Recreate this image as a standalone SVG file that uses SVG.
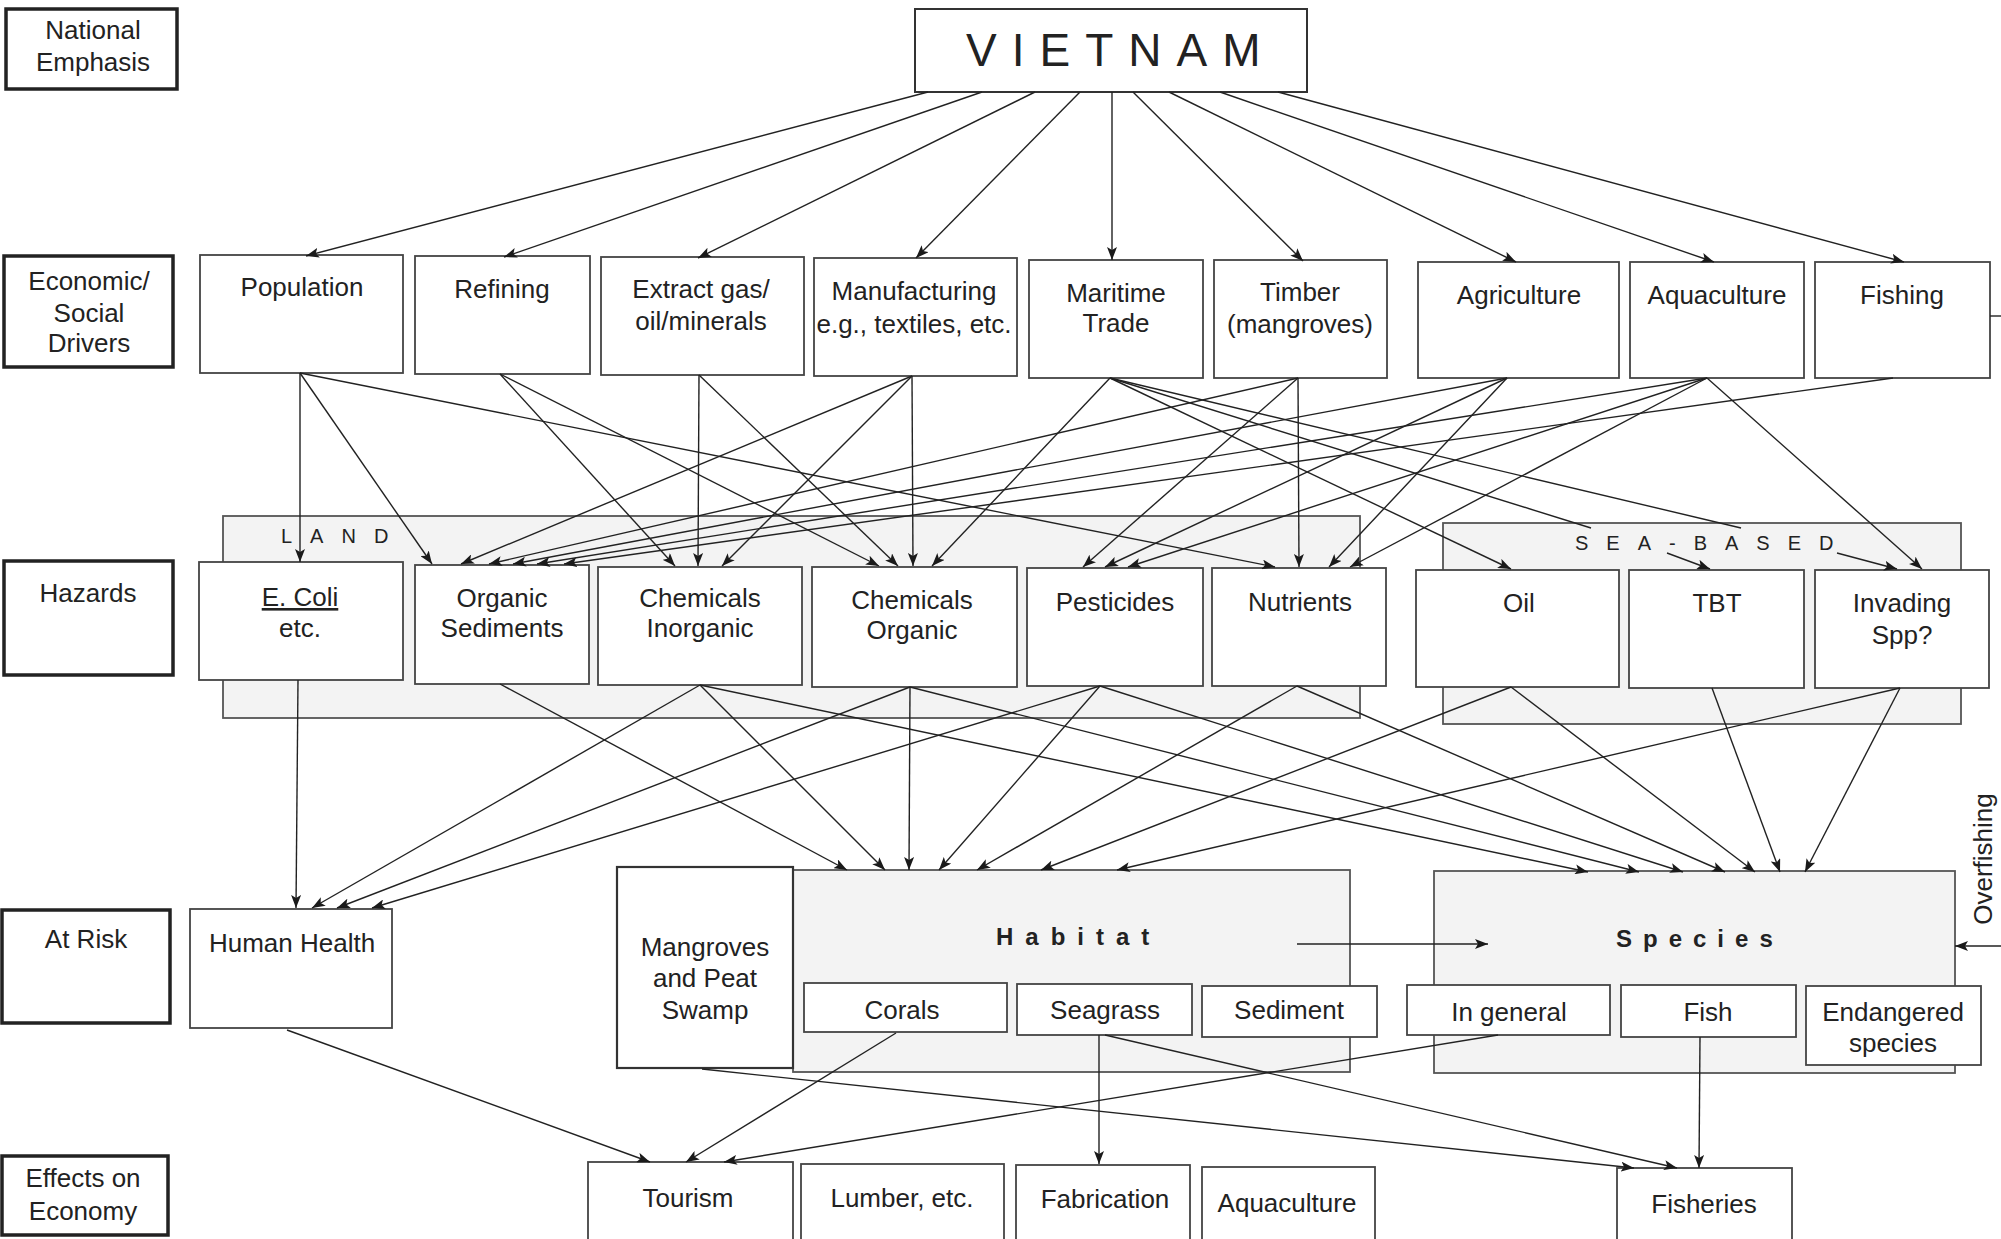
<svg xmlns="http://www.w3.org/2000/svg" width="2001" height="1239" viewBox="0 0 2001 1239">
<defs>
<marker id="ah" markerUnits="userSpaceOnUse" markerWidth="14" markerHeight="10" refX="13" refY="5" orient="auto">
<path d="M0,0 L13,5 L0,10 L3,5 z" fill="#1a1a1a"/>
</marker>
</defs>
<style>
text{font-family:"Liberation Sans",Arial,sans-serif;fill:#222;}
.t{font-size:26px;text-anchor:middle;}
.lab rect{fill:#fff;stroke:#222;stroke-width:3.5;}
.box{fill:#fff;stroke:#444;stroke-width:1.8;}
.band{fill:#f3f3f3;stroke:#555;stroke-width:1.8;}
.c line{stroke:#222;stroke-width:1.4;fill:none;}
.c .a{marker-end:url(#ah);}
.sp{font-size:20px;letter-spacing:18px;}
.big{font-size:24px;font-weight:bold;letter-spacing:12px;}
</style>
<rect width="2001" height="1239" fill="#fff"/>

<!-- left labels -->
<g id="lab-national" class="lab"><rect x="6" y="9" width="171" height="80"/><text class="t" x="93" y="39">National</text><text class="t" x="93" y="71">Emphasis</text></g>
<g id="lab-drivers" class="lab"><rect x="4" y="256" width="169" height="111"/><text class="t" x="89" y="290">Economic/</text><text class="t" x="89" y="322">Social</text><text class="t" x="89" y="352">Drivers</text></g>
<g id="lab-hazards" class="lab"><rect x="4" y="561" width="169" height="114"/><text class="t" x="88" y="602">Hazards</text></g>
<g id="lab-atrisk" class="lab"><rect x="2" y="910" width="168" height="113"/><text class="t" x="86" y="948">At Risk</text></g>
<g id="lab-effects" class="lab"><rect x="2" y="1156" width="166" height="79"/><text class="t" x="83" y="1187">Effects on</text><text class="t" x="83" y="1220">Economy</text></g>

<!-- bands -->
<g id="land-band"><rect class="band" x="223" y="516" width="1137" height="202"/><text class="sp" x="281" y="543">LAND</text></g>
<g id="sea-band"><rect class="band" x="1443" y="523" width="518" height="201"/><text class="sp" x="1575" y="550">SEA-BASED</text></g>

<!-- top -->
<g id="vietnam"><rect x="915" y="9" width="392" height="83" fill="#fff" stroke="#333" stroke-width="2"/><text x="966" y="66" style="font-size:46px;letter-spacing:15px">VIETNAM</text></g>

<!-- drivers -->
<g id="population"><rect class="box" x="200" y="255" width="203" height="118"/><text class="t" x="302" y="296">Population</text></g>
<g id="refining"><rect class="box" x="415" y="256" width="175" height="118"/><text class="t" x="502" y="298">Refining</text></g>
<g id="extract"><rect class="box" x="601" y="257" width="203" height="118"/><text class="t" x="701" y="298">Extract gas/</text><text class="t" x="701" y="330">oil/minerals</text></g>
<g id="manufacturing"><rect class="box" x="814" y="258" width="203" height="118"/><text class="t" x="914" y="300">Manufacturing</text><text class="t" x="914" y="333">e.g., textiles, etc.</text></g>
<g id="maritime"><rect class="box" x="1029" y="260" width="174" height="118"/><text class="t" x="1116" y="302">Maritime</text><text class="t" x="1116" y="332">Trade</text></g>
<g id="timber"><rect class="box" x="1214" y="260" width="173" height="118"/><text class="t" x="1300" y="301">Timber</text><text class="t" x="1300" y="333">(mangroves)</text></g>
<g id="agriculture"><rect class="box" x="1418" y="262" width="201" height="116"/><text class="t" x="1519" y="304">Agriculture</text></g>
<g id="aquaculture"><rect class="box" x="1630" y="262" width="174" height="116"/><text class="t" x="1717" y="304">Aquaculture</text></g>
<g id="fishing"><rect class="box" x="1815" y="262" width="175" height="116"/><text class="t" x="1902" y="304">Fishing</text></g>

<!-- hazards -->
<g id="ecoli"><rect class="box" x="199" y="562" width="204" height="118"/><text class="t" x="300" y="606" text-decoration="underline">E. Coli</text><text class="t" x="300" y="637">etc.</text></g>
<g id="orgsed"><rect class="box" x="415" y="565" width="174" height="119"/><text class="t" x="502" y="607">Organic</text><text class="t" x="502" y="637">Sediments</text></g>
<g id="cheminorg"><rect class="box" x="598" y="567" width="204" height="118"/><text class="t" x="700" y="607">Chemicals</text><text class="t" x="700" y="637">Inorganic</text></g>
<g id="chemorg"><rect class="box" x="812" y="567" width="205" height="120"/><text class="t" x="912" y="609">Chemicals</text><text class="t" x="912" y="639">Organic</text></g>
<g id="pesticides"><rect class="box" x="1027" y="568" width="176" height="118"/><text class="t" x="1115" y="611">Pesticides</text></g>
<g id="nutrients"><rect class="box" x="1212" y="568" width="174" height="118"/><text class="t" x="1300" y="611">Nutrients</text></g>
<g id="oil"><rect class="box" x="1416" y="570" width="203" height="117"/><text class="t" x="1519" y="612">Oil</text></g>
<g id="tbt"><rect class="box" x="1629" y="570" width="175" height="118"/><text class="t" x="1717" y="612">TBT</text></g>
<g id="invading"><rect class="box" x="1815" y="570" width="174" height="118"/><text class="t" x="1902" y="612">Invading</text><text class="t" x="1902" y="644">Spp?</text></g>

<!-- at risk -->
<g id="humanhealth"><rect class="box" x="190" y="909" width="202" height="119"/><text class="t" x="292" y="952">Human Health</text></g>
<g id="habitat"><rect class="band" x="793" y="870" width="557" height="202"/><text class="big" x="996" y="945">Habitat</text></g>
<g id="mangroves"><rect x="617" y="867" width="176" height="201" fill="#fff" stroke="#333" stroke-width="2.2"/><text class="t" x="705" y="956">Mangroves</text><text class="t" x="705" y="987">and Peat</text><text class="t" x="705" y="1019">Swamp</text></g>
<g id="corals"><rect class="box" x="804" y="983" width="203" height="49"/><text class="t" x="902" y="1019">Corals</text></g>
<g id="seagrass"><rect class="box" x="1017" y="984" width="175" height="51"/><text class="t" x="1105" y="1019">Seagrass</text></g>
<g id="sediment"><rect class="box" x="1202" y="986" width="175" height="51"/><text class="t" x="1289" y="1019">Sediment</text></g>
<g id="species"><rect class="band" x="1434" y="871" width="521" height="202"/><text class="big" x="1616" y="947" style="letter-spacing:11px">Species</text></g>
<g id="ingeneral"><rect class="box" x="1407" y="985" width="203" height="50"/><text class="t" x="1509" y="1021">In general</text></g>
<g id="fish"><rect class="box" x="1621" y="985" width="175" height="52"/><text class="t" x="1708" y="1021">Fish</text></g>
<g id="endangered"><rect class="box" x="1806" y="986" width="175" height="79"/><text class="t" x="1893" y="1021">Endangered</text><text class="t" x="1893" y="1052">species</text></g>
<g id="overfishing"><text class="t" transform="translate(1992,859) rotate(-90)">Overfishing</text></g>

<!-- effects -->
<g id="tourism"><rect class="box" x="588" y="1162" width="205" height="90"/><text class="t" x="688" y="1207">Tourism</text></g>
<g id="lumber"><rect class="box" x="801" y="1164" width="203" height="90"/><text class="t" x="902" y="1207">Lumber, etc.</text></g>
<g id="fabrication"><rect class="box" x="1016" y="1165" width="174" height="90"/><text class="t" x="1105" y="1208">Fabrication</text></g>
<g id="aquaculture-eff"><rect class="box" x="1202" y="1167" width="173" height="90"/><text class="t" x="1287" y="1212">Aquaculture</text></g>
<g id="fisheries"><rect class="box" x="1617" y="1168" width="175" height="90"/><text class="t" x="1704" y="1213">Fisheries</text></g>

<!-- connectors -->
<g id="connectors" class="c">
<line class="a" x1="928" y1="92" x2="306" y2="256"/>
<line class="a" x1="982" y1="92" x2="504" y2="257"/>
<line class="a" x1="1035" y1="92" x2="698" y2="258"/>
<line class="a" x1="1080" y1="92" x2="916" y2="258"/>
<line class="a" x1="1112" y1="92" x2="1112" y2="260"/>
<line class="a" x1="1133" y1="92" x2="1303" y2="261"/>
<line class="a" x1="1169" y1="92" x2="1516" y2="262"/>
<line class="a" x1="1220" y1="92" x2="1714" y2="262"/>
<line class="a" x1="1278" y1="92" x2="1904" y2="262"/>
<line x1="1990" y1="316" x2="2001" y2="316"/>

<line class="a" x1="300" y1="373" x2="300" y2="562"/>
<line class="a" x1="300" y1="373" x2="432" y2="564"/>
<line class="a" x1="300" y1="373" x2="1275" y2="567"/>
<line class="a" x1="500" y1="374" x2="675" y2="566"/>
<line class="a" x1="500" y1="374" x2="879" y2="566"/>
<line class="a" x1="699" y1="375" x2="698" y2="566"/>
<line class="a" x1="699" y1="375" x2="898" y2="566"/>
<line class="a" x1="912" y1="376" x2="461" y2="564"/>
<line class="a" x1="912" y1="376" x2="722" y2="566"/>
<line class="a" x1="912" y1="376" x2="913" y2="566"/>
<line class="a" x1="1110" y1="378" x2="932" y2="566"/>
<line class="a" x1="1110" y1="378" x2="1511" y2="569"/>
<line x1="1110" y1="378" x2="1591" y2="528"/>
<line x1="1110" y1="378" x2="1741" y2="528"/>
<line class="a" x1="1298" y1="378" x2="489" y2="564"/>
<line class="a" x1="1298" y1="378" x2="1083" y2="567"/>
<line class="a" x1="1298" y1="378" x2="1299" y2="567"/>
<line class="a" x1="1507" y1="378" x2="513" y2="564"/>
<line class="a" x1="1507" y1="378" x2="1105" y2="567"/>
<line class="a" x1="1507" y1="378" x2="1329" y2="567"/>
<line class="a" x1="1707" y1="378" x2="537" y2="564"/>
<line class="a" x1="1707" y1="378" x2="1128" y2="567"/>
<line class="a" x1="1707" y1="378" x2="1350" y2="567"/>
<line class="a" x1="1707" y1="378" x2="1922" y2="569"/>
<line class="a" x1="1893" y1="378" x2="564" y2="564"/>
<line class="a" x1="1667" y1="553" x2="1710" y2="569"/>
<line class="a" x1="1837" y1="553" x2="1897" y2="569"/>

<line class="a" x1="298" y1="680" x2="296" y2="908"/>
<line class="a" x1="700" y1="685" x2="312" y2="908"/>
<line class="a" x1="910" y1="687" x2="337" y2="908"/>
<line class="a" x1="1100" y1="686" x2="372" y2="908"/>
<line class="a" x1="500" y1="684" x2="847" y2="870"/>
<line class="a" x1="700" y1="685" x2="885" y2="870"/>
<line class="a" x1="910" y1="687" x2="909" y2="870"/>
<line class="a" x1="1100" y1="686" x2="939" y2="870"/>
<line class="a" x1="1297" y1="686" x2="977" y2="870"/>
<line class="a" x1="1511" y1="687" x2="1041" y2="870"/>
<line class="a" x1="1900" y1="688" x2="1117" y2="870"/>
<line class="a" x1="700" y1="685" x2="1588" y2="872"/>
<line class="a" x1="910" y1="687" x2="1639" y2="872"/>
<line class="a" x1="1100" y1="686" x2="1683" y2="872"/>
<line class="a" x1="1297" y1="686" x2="1725" y2="872"/>
<line class="a" x1="1511" y1="687" x2="1755" y2="872"/>
<line class="a" x1="1712" y1="688" x2="1780" y2="872"/>
<line class="a" x1="1900" y1="688" x2="1805" y2="872"/>

<line class="a" x1="1297" y1="944" x2="1488" y2="944"/>
<line class="a" x1="2001" y1="946" x2="1955" y2="946"/>

<line class="a" x1="287" y1="1030" x2="650" y2="1162"/>
<line class="a" x1="896" y1="1033" x2="686" y2="1162"/>
<line class="a" x1="1498" y1="1035" x2="724" y2="1162"/>
<line class="a" x1="1099" y1="1035" x2="1099" y2="1164"/>
<line class="a" x1="702" y1="1069" x2="1634" y2="1168"/>
<line class="a" x1="1105" y1="1035" x2="1677" y2="1168"/>
<line class="a" x1="1700" y1="1037" x2="1699" y2="1168"/>
</g>
</svg>
